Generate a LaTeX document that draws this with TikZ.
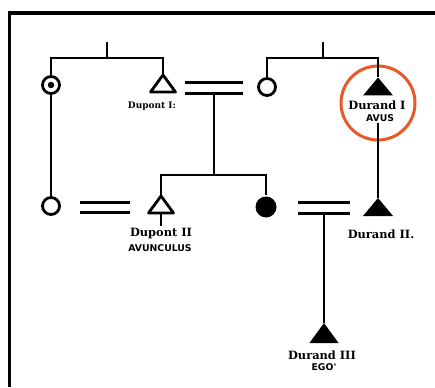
\documentclass[tikz,border=0pt]{standalone}
\usepackage{fontspec}
\newfontfamily\lblfont{DejaVu Serif}
\newfontfamily\capfont{DejaVu Sans}
\definecolor{hilite}{RGB}{235,88,40}
\begin{document}
\begin{tikzpicture}[x=1pt,y=-1pt,
  line width=2.8pt,
  opentri/.style={minimum width=25pt, minimum height=17pt, inner sep=0pt, outer sep=0pt},
  filltri/.style={minimum width=30pt, minimum height=18pt, inner sep=0pt, outer sep=0pt},
  tridraw/.style={line width=2.8pt, line join=round},
  person/.style={circle, draw, line width=2.8pt, minimum size=17pt, inner sep=0pt},
  dead/.style={circle, fill, minimum size=21pt, inner sep=0pt},
  wed/.style={inner sep=0pt, outer sep=0pt, minimum height=10.5pt},
  namelbl/.style={font=\lblfont\bfseries\fontsize{11.4}{12}\selectfont, inner sep=0pt},
  smallname/.style={font=\lblfont\bfseries\fontsize{9}{10}\selectfont, inner sep=0pt},
  rolelbl/.style={font=\capfont\bfseries\fontsize{9.3}{10}\selectfont, inner sep=0pt},
  ring/.style={circle, draw=hilite, line width=3pt, minimum size=74pt, inner sep=0pt}
]
\useasboundingbox (0,0) rectangle (435,387);
% frame
\coordinate (fbl) at (9.5,387);
\coordinate (ftl) at (9.5,13);
\coordinate (ftr) at (435,13);
\draw[line width=3.5pt] (fbl) -- (ftl) -- (ftr);

% nodes
\node[person] (cdot) at (51,85) {};
\node[circle, fill, minimum size=6.5pt, inner sep=0pt] (cdotin) at (cdot.center) {};
\node[opentri] (dup1) at (163,83.5) {};
\draw[tridraw] (dup1.south west) -- (dup1.south east) -- (dup1.north) -- cycle;
\node[smallname] (dup1lbl) at (152,106) {Dupont I:};

\node[person] (c1) at (267,87) {};
\node[filltri] (dur1) at (378,86.5) {};
\fill[tridraw] (dur1.south west) -- (dur1.south east) -- (dur1.north) -- cycle;
\node[namelbl] (dur1lbl) at (377,105.5) {Durand I};
\node[rolelbl] (avus) at (380,118) {AVUS};
\node[ring] (hl) at (378,103) {};

\node[wed, minimum width=58pt] (m1) at (214,88) {};
\draw (m1.north west) -- (m1.north east);
\draw (m1.south west) -- (m1.south east);

\node[person] (cL) at (51,206) {};
\node[wed, minimum width=50pt] (m2) at (105,207.5) {};
\draw (m2.north west) -- (m2.north east);
\draw (m2.south west) -- (m2.south east);
\node[opentri] (dup2) at (161,204.5) {};
\draw[tridraw] (dup2.south west) -- (dup2.south east) -- (dup2.north) -- cycle;
\coordinate (dup2stub) at (161,226);
\node[namelbl] (dup2lbl) at (161,234) {Dupont II};
\node[rolelbl] (avunc) at (160,248) {AVUNCULUS};

\node[dead] (fc) at (266,207) {};
\node[wed, minimum width=52pt] (m3) at (324,208) {};
\draw (m3.north west) -- (m3.north east);
\draw (m3.south west) -- (m3.south east);
\node[filltri] (dur2) at (378,207) {};
\fill[tridraw] (dur2.south west) -- (dur2.south east) -- (dur2.north) -- cycle;
\node[namelbl] (dur2lbl) at (381,234) {Durand II.};

\node[filltri, minimum height=20pt, minimum width=29pt] (dur3) at (324,333) {};
\fill[tridraw] (dur3.south west) -- (dur3.south east) -- (dur3.north) -- cycle;
\node[namelbl] (dur3lbl) at (322,355) {Durand III};
\node[rolelbl] (ego) at (324,367.5) {EGO'};

% sibling groups
\coordinate (s1) at (107,42);
\coordinate (b1) at (107,58);
\draw (s1) -- (b1);
\draw (cdot.north) -- (cdot.north |- b1) -- (dup1.north |- b1) -- (dup1.north);

\coordinate (s2) at (323,42);
\coordinate (b2) at (323,58);
\draw (s2) -- (b2);
\draw (c1.north) -- (c1.north |- b2) -- (dur1.north |- b2) -- (dur1.north);

\coordinate (b3) at (214,175);
\draw (m1.south) -- (b3);
\draw (dup2.north) -- (dup2.north |- b3) -- (fc.north |- b3) -- (fc.north);

% descent lines
\draw (cdot.south) -- (cL.north);
\draw (dup2.south) -- (dup2stub);
\draw (avus.south -| dur2.north) -- (dur2.north);
\draw (m3.south) -- (m3.south |- dur3.north);
\end{tikzpicture}
\end{document}
